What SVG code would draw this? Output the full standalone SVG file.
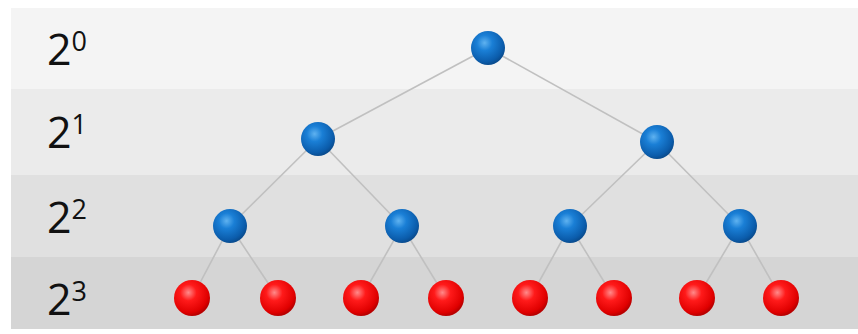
<svg xmlns="http://www.w3.org/2000/svg" width="858" height="334" viewBox="0 0 858 334">
<defs>
<radialGradient id="gb" cx="0.4" cy="0.35" r="0.65">
<stop offset="0" stop-color="#5fb2f0"/>
<stop offset="0.35" stop-color="#1a7fd6"/>
<stop offset="0.85" stop-color="#0b5cab"/>
<stop offset="1" stop-color="#0a4d90"/>
</radialGradient>
<radialGradient id="gr" cx="0.4" cy="0.35" r="0.65">
<stop offset="0" stop-color="#ff8a8a"/>
<stop offset="0.35" stop-color="#ff1a1a"/>
<stop offset="0.85" stop-color="#e00000"/>
<stop offset="1" stop-color="#b80000"/>
</radialGradient>
</defs>
<style>
.lbl{font-family:"Open Sans","Liberation Sans",sans-serif;fill:#111;}
.b{font-size:43px;}
.s{font-size:27px;}
.edge{stroke:#c0c0c0;stroke-width:1.6;fill:none;}
.blue{fill:url(#gb);}
.red{fill:url(#gr);}
</style>
<rect width="858" height="334" fill="#ffffff"/>
<g id="bands">
<rect x="11" y="8" width="847" height="81" fill="#f4f4f4"/>
<rect x="11" y="89" width="847" height="86" fill="#ebebeb"/>
<rect x="11" y="175" width="847" height="82" fill="#e0e0e0"/>
<rect x="11" y="257" width="847" height="72" fill="#d5d5d5"/>
</g>
<g id="labels">
<text class="lbl b" x="47" y="65">2<tspan class="s" dy="-14">0</tspan></text>
<text class="lbl b" x="47" y="148">2<tspan class="s" dy="-14">1</tspan></text>
<text class="lbl b" x="47" y="233">2<tspan class="s" dy="-14">2</tspan></text>
<text class="lbl b" x="47" y="315">2<tspan class="s" dy="-14">3</tspan></text>
</g>
<g id="connectors">
<line class="edge" x1="488" y1="48" x2="318" y2="139"/>
<line class="edge" x1="488" y1="48" x2="657" y2="142"/>
<line class="edge" x1="318" y1="139" x2="230" y2="226"/>
<line class="edge" x1="318" y1="139" x2="402" y2="226"/>
<line class="edge" x1="657" y1="142" x2="570" y2="226"/>
<line class="edge" x1="657" y1="142" x2="740" y2="226"/>
<line class="edge" x1="230" y1="226" x2="192" y2="298"/>
<line class="edge" x1="230" y1="226" x2="278" y2="298"/>
<line class="edge" x1="402" y1="226" x2="361" y2="298"/>
<line class="edge" x1="402" y1="226" x2="446" y2="298"/>
<line class="edge" x1="570" y1="226" x2="530" y2="298"/>
<line class="edge" x1="570" y1="226" x2="614" y2="298"/>
<line class="edge" x1="740" y1="226" x2="697" y2="298"/>
<line class="edge" x1="740" y1="226" x2="781" y2="298"/>
</g>
<g id="n0"><circle class="blue" cx="488" cy="48" r="17"/></g>
<g id="n1"><circle class="blue" cx="318" cy="139" r="17"/></g>
<g id="n2"><circle class="blue" cx="657" cy="142" r="17"/></g>
<g id="n3"><circle class="blue" cx="230" cy="226" r="17"/></g>
<g id="n4"><circle class="blue" cx="402" cy="226" r="17"/></g>
<g id="n5"><circle class="blue" cx="570" cy="226" r="17"/></g>
<g id="n6"><circle class="blue" cx="740" cy="226" r="17"/></g>
<g id="n7"><circle class="red" cx="192" cy="298" r="18"/></g>
<g id="n8"><circle class="red" cx="278" cy="298" r="18"/></g>
<g id="n9"><circle class="red" cx="361" cy="298" r="18"/></g>
<g id="n10"><circle class="red" cx="446" cy="298" r="18"/></g>
<g id="n11"><circle class="red" cx="530" cy="298" r="18"/></g>
<g id="n12"><circle class="red" cx="614" cy="298" r="18"/></g>
<g id="n13"><circle class="red" cx="697" cy="298" r="18"/></g>
<g id="n14"><circle class="red" cx="781" cy="298" r="18"/></g>
</svg>
